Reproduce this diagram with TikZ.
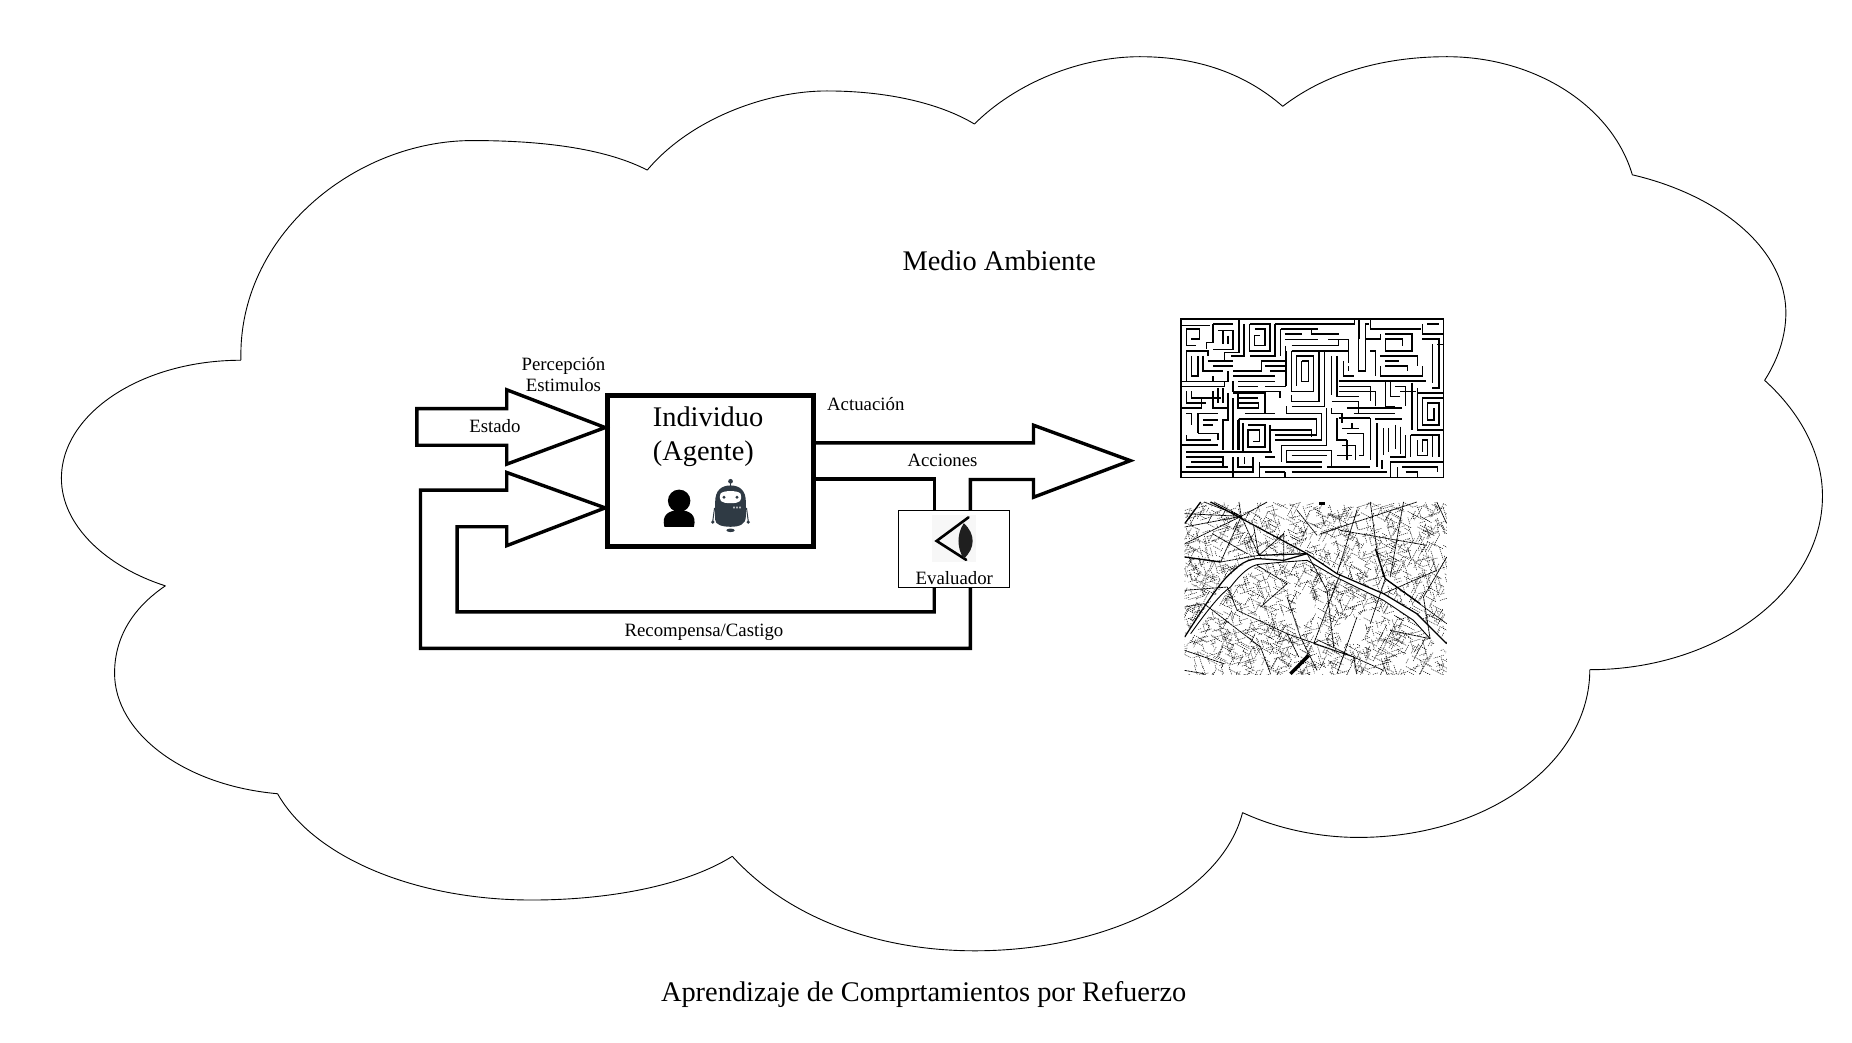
\documentclass[tikz,border=0pt]{standalone}
\usepackage{fontspec}
\setmainfont{Liberation Serif}
\begin{document}
\begin{tikzpicture}[x=1.1811pt,y=-1.1811pt,
  cloudline/.style={line width=0.9pt},
  flow/.style={draw=black,line width=3.4pt,miter limit=10,line join=miter},
  agentbox/.style={draw=black,line width=5pt},
  evalbox/.style={draw=black,line width=1pt,fill=white},
  small/.style={font=\fontsize{18.8}{20.8}\selectfont,inner sep=0pt,align=center},
  big/.style={font=\fontsize{28.4}{33}\selectfont,inner sep=0pt,align=center}]
\useasboundingbox (0,0) rectangle (1568,883);
\fill[white] (0,0) rectangle (1568,883);
% cloud
\draw[cloudline] (204,305) .. controls (201,200) and (300,119) .. (400,119) .. controls (465,119) and (515,127) .. (548,144);
\draw[cloudline] (548,144) .. controls (585,100) and (650,77) .. (700,77) .. controls (750,77) and (795,87) .. (825,105);
\draw[cloudline] (825,105) .. controls (860,70) and (915,48) .. (965,48) .. controls (1015,48) and (1055,63) .. (1086,90);
\draw[cloudline] (1086,90) .. controls (1125,60) and (1175,48) .. (1225,48) .. controls (1300,48) and (1365,90) .. (1382,148);
\draw[cloudline] (1382,148) .. controls (1455,165) and (1512,210) .. (1512,265) .. controls (1512,285) and (1505,305) .. (1494,322);
\draw[cloudline] (1494,322) .. controls (1525,350) and (1543,385) .. (1543,420) .. controls (1543,500) and (1455,567) .. (1346,567);
\draw[cloudline] (1346,567) .. controls (1346,645) and (1260,709) .. (1150,709) .. controls (1115,709) and (1080,701) .. (1052,688);
\draw[cloudline] (1052,688) .. controls (1035,755) and (940,805) .. (825,805) .. controls (740,805) and (665,775) .. (620,725);
\draw[cloudline] (620,725) .. controls (580,750) and (515,762) .. (450,762) .. controls (350,762) and (265,725) .. (235,672);
\draw[cloudline] (235,672) .. controls (155,665) and (97,620) .. (97,570) .. controls (97,540) and (112,515) .. (140,496);
\draw[cloudline] (140,496) .. controls (90,480) and (52,445) .. (52,405) .. controls (52,350) and (120,305) .. (204,305);
% titles
\node[big] (medio) at (846,221) {Medio Ambiente};
\node[big] (titulo) at (782,842) {Aprendizaje de Comprtamientos por Refuerzo};
% arrows
\node[agentbox,minimum width=174pt*1.181,minimum height=128pt*1.181,inner sep=0pt] (agent) at (601.5,399) {};
\coordinate (tipA) at (agent.west |- 0,362);
\coordinate (tipB) at (agent.west |- 0,430);
\draw[flow] (tipA) -- (429,330) -- (429,346) -- (353,346) -- (353,377) -- (429,377) -- (429,393) -- cycle;
\node[evalbox,minimum width=94pt*1.181,minimum height=65pt*1.181,inner sep=0pt] (eval) at (808,464.5) {};
\draw[flow] (tipB) -- (429,400) -- (429,415) -- (356,415) -- (356,549) -- (821.5,549) -- (821.5,497);
\draw[flow] (tipB) -- (429,462) -- (429,446) -- (387,446) -- (387,518) -- (791,518) -- (791,497);
\draw[flow] (agent.east |- 0,375) -- (875,375) -- (875,360) -- (957,390) -- (875,421) -- (875,406) -- (821.5,406) -- (821.5,432);
\draw[flow] (agent.east |- 0,405.5) -- (791,405.5) -- (791,432);
% labels
\node[small] (perc) at (477,317) {Percepción\\Estimulos};
\node[small] (estado) at (419,361) {Estado};
\node[small] (act) at (733,342) {Actuación};
\node[small] (acc) at (798,390) {Acciones};
\node[small] (eva) at (808,489) {Evaluador};
\node[small] (rec) at (596,535) {Recompensa/Castigo};
\node[big] (indA) at (599.5,353) {Individuo};
\node[big] (indB) at (595.5,384) {(Agente)};
% person
\fill (575,424) circle (9.5);
\fill (562.5,446) .. controls (560,436) and (566,432) .. (575,432) .. controls (584,432) and (590,436) .. (587.5,446) -- cycle;
% robot
\definecolor{robotc}{HTML}{2F3A44}
\begin{scope}[robotc]
\fill (618.5,407.5) circle (2);
\draw[line width=1pt] (618.5,407.5) -- (618.5,412);
\fill (605.5,440) -- (605.5,425) .. controls (605.5,415) and (611,411) .. (618.5,411) .. controls (626,411) and (631.5,415) .. (631.5,425) -- (631.5,437) .. controls (631.5,444) and (626,446) .. (618.5,446) .. controls (611,446) and (605.5,444) .. cycle;
\fill[white] (610,418) .. controls (612,415) and (625,415) .. (627,418) .. controls (628.5,424) and (627,426) .. (618.5,426) .. controls (610,426) and (608.5,424) .. (610,418) -- cycle;
\fill (613,421) circle (1.4) (624,421) circle (1.4);
\fill (618.5,449) ellipse (3.5 and 1.5);
\draw[line width=1pt] (605,430) -- (603.5,441) (632,430) -- (633.5,441);
\fill (603.5,442) circle (1.5) (633.5,442) circle (1.5);
\fill[white] (621,429) rectangle (622,430.5) (623.5,429) rectangle (624.5,430.5) (626,429) rectangle (627,430.5);
\end{scope}
% eye
\fill[black!3] (789,436) rectangle (826,476);
\draw[line width=2.6pt,line cap=round,line join=miter] (820,438) -- (793,458) -- (818,474);
\fill[black!88] (816,443) .. controls (826,452) and (826,464) .. (816,473) .. controls (810,464) and (810,452) .. (816,443) -- cycle;
% maze
\begin{scope}[shift={(1000,270)},x=0.3349pt,y=-0.3367pt,line width=1.3pt,line cap=square]
\draw (0,0) rectangle (783,470);
\foreach \p in {
 {(0,20)--(85,20)}, {(15,30)--(15,80)--(45,80)}, {(15,30)--(55,30)--(55,60)--(30,60)},
 {(95,15)--(155,15)}, {(95,15)--(95,70)--(75,70)--(75,90)},{(110,35)--(155,35)--(155,90)--(95,90)},{(125,35)--(125,75)},{(140,50)--(140,75)},
 {(172,0)--(172,100)--(130,100)--(130,125)},{(188,15)--(188,110)--(150,110)},
 {(205,15)--(205,95)--(265,95)--(265,15)--(205,15)},{(220,30)--(250,30)--(250,80)--(220,80)--(220,50)--(235,50)},
 {(280,15)--(280,110)--(205,110)},{(280,15)--(520,15)},{(297,30)--(410,30)},{(297,30)--(297,110)},{(310,45)--(360,45)},{(390,30)--(390,45)--(470,45)},{(310,62)--(410,62)},{(440,62)--(500,62)--(500,130)},{(330,78)--(470,78)--(470,62)},{(330,95)--(500,95)},{(518,15)--(518,0)},
 {(15,95)--(80,95)--(80,110)},{(15,95)--(15,185)},{(30,110)--(30,170)--(50,170)--(50,110)},{(65,110)--(65,155)--(125,155)},{(80,125)--(155,125)},{(95,140)--(155,140)},{(50,185)--(125,185)},
 {(140,155)--(140,185)--(95,185)--(95,170)},{(155,170)--(280,170)},{(155,155)--(240,155)--(240,125)--(312,125)},{(250,140)--(312,140)},{(265,155)--(312,155)},
 {(312,80)--(312,200)--(250,200)},{(170,185)--(280,185)},{(170,200)--(230,200)},{(155,185)--(155,215)--(295,215)--(295,235)},
 {(0,185)--(95,185)},{(0,200)--(130,200)--(130,185)},
 {(330,95)--(330,215)--(395,215)--(395,110)--(345,110)--(345,200)},{(360,125)--(360,185)--(380,185)--(380,125)--(360,125)},
 {(412,95)--(412,245)--(330,245)--(330,225)},{(428,95)--(428,260)--(330,260)},{(450,110)--(450,225)},{(465,110)--(465,230)--(530,230)},{(485,125)--(485,170)--(515,170)},{(500,140)--(500,155)},{(470,185)--(730,185)},{(470,200)--(560,200)},{(470,215)--(580,215)--(580,260)},{(530,200)--(565,200)--(565,245)},
 {(530,0)--(530,155)--(550,155)--(550,15)--(560,15)},{(565,30)--(715,30)},{(565,30)--(565,0)},
 {(595,45)--(595,60)--(550,60)},{(610,45)--(690,45)--(690,95)--(610,95)--(610,60)--(660,60)--(660,80)},{(565,95)--(580,95)--(580,170)},{(595,110)--(705,110)--(705,140)},{(610,125)--(650,125)},{(595,140)--(595,170)--(720,170)--(720,140)},{(610,140)--(675,140)--(675,155)},
 {(720,15)--(720,45)--(783,45)},{(735,15)--(770,15)},{(720,60)--(770,60)--(770,205)--(750,205)},{(750,75)--(750,190)},{(765,75)--(783,75)},
 {(610,185)--(610,260)--(640,260)},{(625,185)--(625,230)--(655,230)},{(640,200)--(670,200)--(670,260)},{(655,215)--(700,215)},{(690,190)--(690,330)},{(705,205)--(705,330)--(783,330)},{(705,220)--(783,220)},{(720,235)--(783,235)},{(720,235)--(720,315)--(770,315)--(770,250)--(735,250)--(735,300)--(755,300)--(755,265)},
 {(15,215)--(15,250)--(75,250)},{(0,265)--(60,265)--(60,235)},{(30,215)--(30,235)--(120,235)},{(15,280)--(30,280)--(30,315)},{(50,280)--(110,280)},{(50,280)--(50,340)},
 {(95,215)--(95,265)--(140,265)},{(110,205)--(110,250)},{(125,205)--(125,250)},{(140,220)--(140,300)--(125,300)--(125,390)},{(155,220)--(250,220)--(250,280)--(200,280)},{(170,235)--(230,235)},{(170,250)--(230,250)--(230,265)--(170,265)--(170,220)},{(155,235)--(155,390)},{(190,280)--(280,280)},
 {(65,300)--(110,300)},{(65,315)--(95,315)},{(50,340)--(110,340)--(110,360)},{(15,345)--(15,360)--(90,360)},{(0,375)--(110,375)},{(15,395)--(270,395)},{(15,410)--(125,410)--(125,440)},{(30,425)--(125,425)},{(15,440)--(140,440)},
 {(170,300)--(170,390)},{(172,297)--(405,297)},{(185,310)--(185,395)},{(200,315)--(250,315)--(250,380)--(200,380)--(200,330)--(235,330)--(235,365)--(215,365)},
 {(265,315)--(265,395)},{(265,330)--(390,330)--(390,350)},{(280,345)--(405,345)--(405,297)},{(280,360)--(420,360)--(420,280)--(315,280)--(315,260)},{(300,375)--(435,375)--(435,265)},{(300,375)--(300,425)},{(315,390)--(450,390)},{(315,390)--(315,425)--(420,425)},{(330,405)--(435,405)},
 {(155,410)--(155,470)},{(170,410)--(170,440)--(215,440)},{(190,410)--(190,430)},{(215,410)--(215,455)--(0,455)},{(235,425)--(235,470)},{(250,410)--(280,410)},{(235,440)--(420,440)},{(250,455)--(310,455)},{(310,455)--(310,470)},{(330,455)--(615,455)},
 {(450,265)--(450,280)--(480,280)--(480,310)},{(450,245)--(530,245)--(530,280)},{(480,295)--(565,295)--(565,420)},{(465,295)--(465,360)--(495,360)},{(480,325)--(530,325)},{(495,340)--(545,340)--(545,405)--(530,405)},{(510,310)--(510,325)},{(495,360)--(495,420)},{(480,375)--(520,375)--(520,420)},{(450,390)--(450,440)},{(465,405)--(510,405)},{(435,440)--(565,440)},
 {(495,265)--(660,265)},{(515,280)--(640,280)},{(580,295)--(660,295)},{(585,310)--(585,440)},{(605,325)--(605,405)},{(620,325)--(620,395)},{(640,315)--(640,385)},{(655,320)--(655,400)},{(670,345)--(670,410)--(625,410)},{(600,420)--(600,445)},{(625,425)--(783,425)},{(625,425)--(625,470)},{(645,440)--(645,470)},{(660,440)--(765,440)--(765,455)},{(670,455)--(705,455)--(705,470)},
 {(685,345)--(770,345)--(770,410)},{(685,345)--(685,410)},{(705,360)--(705,405)--(735,405)--(735,360)--(720,360)--(720,395)},{(750,345)--(750,410)}
}{\draw \p;}
% heavier strokes
\draw[line width=2.2pt] (172,0)--(172,100) (530,0)--(530,60) (312,95)--(312,200) (330,95)--(500,95) (610,45)--(690,45)--(690,95)--(610,95) (172,297)--(405,297) (172,297)--(172,390) (250,315)--(250,380) (470,185)--(730,185) (470,295)--(565,295) (580,297)--(660,297) (690,190)--(690,330) (750,205)--(770,205)--(770,60) (235,440)--(420,440) (0,375)--(110,375) (65,110)--(65,155);
\end{scope}
% map
\begin{scope}
\clip (1003,425) rectangle (1225,571);
\pgfmathsetseed{42}
\begin{scope}[line width=0.45pt,black]
\foreach \i in {1,...,1900}{
  \pgfmathsetmacro{\xa}{1003+222*rnd}
  \pgfmathsetmacro{\ya}{425+146*rnd}
  \pgfmathsetmacro{\an}{int(4*rnd)*45+28}
  \pgfmathsetmacro{\le}{3+8*rnd}
  \draw[dash pattern=on 1.1pt off 0.9pt] (\xa,\ya) -- ++(\an:\le);
}
\end{scope}
% open spaces and river
\fill[white] (1145,534) ellipse (12 and 11);
\fill[white] (1105,514) ellipse (8 and 13);
\fill[white] (1003,548) -- (1003,539) -- (1045,483) -- (1062,473) -- (1107,469) -- (1132,486) -- (1171,503) -- (1200,520) -- (1225,545) -- (1225,552) -- (1211,541) -- (1197,525) -- (1171,508) -- (1132,490) -- (1107,474) -- (1087,476) -- (1064,479) -- (1042,497) -- cycle;
\begin{scope}[shift={(1003,425)},x=0.3326pt,y=-0.3335pt]
\begin{scope}[shift={(-42,-35)}]
\draw[line width=0.75pt,dash pattern=on 2.5pt off 0.5pt]
 (212,78)--(42,110) (212,78)--(42,70) (212,78)--(130,35) (212,78)--(205,35) (212,78)--(290,35) (212,78)--(42,160) (212,78)--(265,195) (212,78)--(150,215) (212,78)--(100,35)
 (265,195)--(250,110) (265,195)--(340,130)--(340,215) (125,130)--(230,190) (42,200)--(150,215)--(265,195) (42,300)--(170,290)
 (170,290)--(200,360)--(350,430)--(550,500)--(640,540) (350,430)--(385,500) (430,460)--(550,500)
 (470,300)--(490,470) (410,190)--(470,300) (560,60)--(500,250) (640,260)--(620,180)--(600,35) (645,265)--(600,400)
 (640,310)--(800,240) (645,265)--(830,400) (270,350)--(350,280)--(260,225) (350,320)--(390,440)--(440,540)
 (42,540)--(100,550) (560,550)--(550,500) (700,35)--(660,260) (830,200)--(760,320)--(780,445) (450,130)--(740,35)
 (510,120)--(770,165) (510,250)--(430,460) (100,340)--(270,470)--(300,550) (42,350)--(100,340) (430,460)--(445,450)--(550,500)
 (800,35)--(830,100) (500,550)--(560,380) (660,420)--(780,445) (380,60)--(440,135) (42,480)--(160,520);
\draw[line width=1.25pt] (120,35)--(410,190) (42,200)--(150,215) (265,195)--(410,190);
\draw[line width=1.25pt] (42,440)..controls (100,350) and (150,270)..(190,240)..controls (215,215) and (240,205)..(265,205) -- (340,210)--(410,190);
\draw[line width=0.9pt] (60,430)..controls (110,360) and (150,310)..(180,290)..controls (210,250) and (240,225)..(265,222) -- (340,215) -- (410,210);
\draw[line width=1.25pt] (410,190)--(500,250)--(640,310)--(740,370)--(830,460);
\draw[line width=0.9pt] (410,210)--(500,262)--(640,330)--(730,390)--(780,445);
\draw[line width=1.3pt] (615,175)--(645,265)--(750,340) (42,100)--(90,35);
\fill (445,35) rectangle (465,43);
\draw[line width=3.4pt] (360,550)--(415,495);
\end{scope}
\end{scope}
\end{scope}
\end{tikzpicture}
\end{document}
